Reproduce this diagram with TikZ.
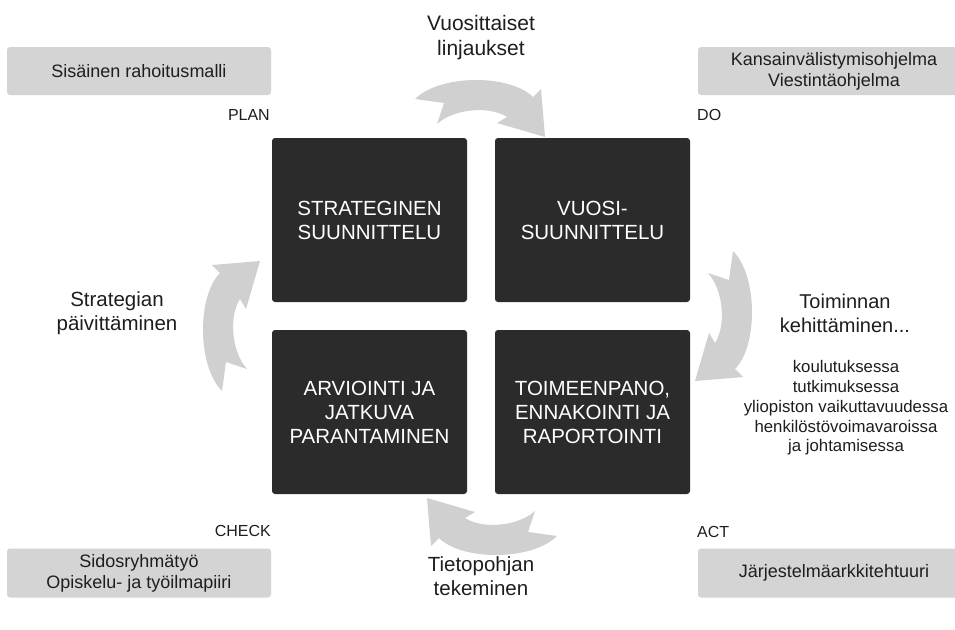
\documentclass[tikz,border=0pt]{standalone}
\usepackage{fontspec}
\setmainfont{Liberation Sans}
\definecolor{darkbox}{HTML}{2B2B2B}
\definecolor{greybox}{HTML}{D4D4D4}
\definecolor{arrowgrey}{HTML}{D0D0D0}
\definecolor{ink}{HTML}{1E1E1E}
\newcommand\pdcaArrow{\fill[arrowgrey] (-65,-9) .. controls (-40,-34) and (30,-34) .. (53,-11)
      -- (61,-19) -- (65,29) -- (17,15) -- (27,9)
      .. controls (10,-2) and (-25,0) .. (-43,16) -- (-36,-5) -- cycle;}
\begin{document}
\begin{tikzpicture}[x=1pt,y=-1pt,
  phase/.style={fill=darkbox, rounded corners=3pt, minimum width=195pt, minimum height=164pt,
    text=white, align=center, inner sep=0pt, font=\fontsize{20.5}{24}\selectfont},
  infobox/.style={fill=greybox, rounded corners=3pt, minimum height=48pt, text=ink,
    align=center, inner sep=0pt, font=\fontsize{18}{21}\selectfont},
  steplabel/.style={text=ink, align=center, inner sep=0pt, font=\fontsize{20.5}{24}\selectfont},
  pdca/.style={text=ink, inner sep=0pt, font=\fontsize{16}{19}\selectfont},
  listtext/.style={text=ink, align=center, inner sep=0pt, font=\fontsize{16.8}{19.75}\selectfont}
]
\useasboundingbox (0,0) rectangle (955,629);
\clip (0,0) rectangle (955,629);
\fill[white] (0,0) rectangle (955,629);

% cycle arrows
\begin{scope}[shift={(480,108)}] \pdcaArrow \end{scope}
\begin{scope}[shift={(724,316)}, rotate=-90] \pdcaArrow \end{scope}
\begin{scope}[shift={(492,527)}, rotate=180] \pdcaArrow \end{scope}
\begin{scope}[shift={(231,326)}, rotate=90] \pdcaArrow \end{scope}

% phase squares
\node[phase] (plan) at (369.5,220) {STRATEGINEN\\SUUNNITTELU};
\node[phase] (do) at (592.5,220) {VUOSI-\\SUUNNITTELU};
\node[phase] (check) at (369.5,412) {ARVIOINTI JA\\JATKUVA\\PARANTAMINEN};
\node[phase] (act) at (592.5,412) {TOIMEENPANO,\\ENNAKOINTI JA\\RAPORTOINTI};

% grey boxes
\node[infobox, minimum width=264pt] (rahoitus) at (139,71) {Sisäinen rahoitusmalli};
\node[infobox, minimum width=272pt] (ohjelmat) at (834,71) {Kansainvälistymisohjelma\\Viestintäohjelma};
\node[infobox, minimum width=264pt, minimum height=49pt] (sidos) at (139,573) {Sidosryhmätyö\\Opiskelu- ja työilmapiiri};
\node[infobox, minimum width=272pt, minimum height=49pt] (arkkit) at (834,573) {Järjestelmäarkkitehtuuri};

% PDCA labels
\node[pdca, anchor=base east] (lplan) at (270,120) {PLAN};
\node[pdca, anchor=base west] (ldo) at (697,120) {DO};
\node[pdca, anchor=base east] (lcheck) at (271,536) {CHECK};
\node[pdca, anchor=base west] (lact) at (697,537) {ACT};

% step labels
\node[steplabel, font=\fontsize{21}{25}\selectfont] (vuosi) at (481,38) {Vuosittaiset\\linjaukset};
\node[steplabel, font=\fontsize{20}{24}\selectfont] (toim) at (845,313) {Toiminnan\\kehittäminen...};
\node[listtext] (lista) at (846,408) {koulutuksessa\\tutkimuksessa\\yliopiston vaikuttavuudessa\\henkilöstövoimavaroissa\\ja johtamisessa};
\node[steplabel] (strat) at (117,313) {Strategian\\päivittäminen};
\node[steplabel] (tieto) at (481,576) {Tietopohjan\\tekeminen};
\end{tikzpicture}
\end{document}
